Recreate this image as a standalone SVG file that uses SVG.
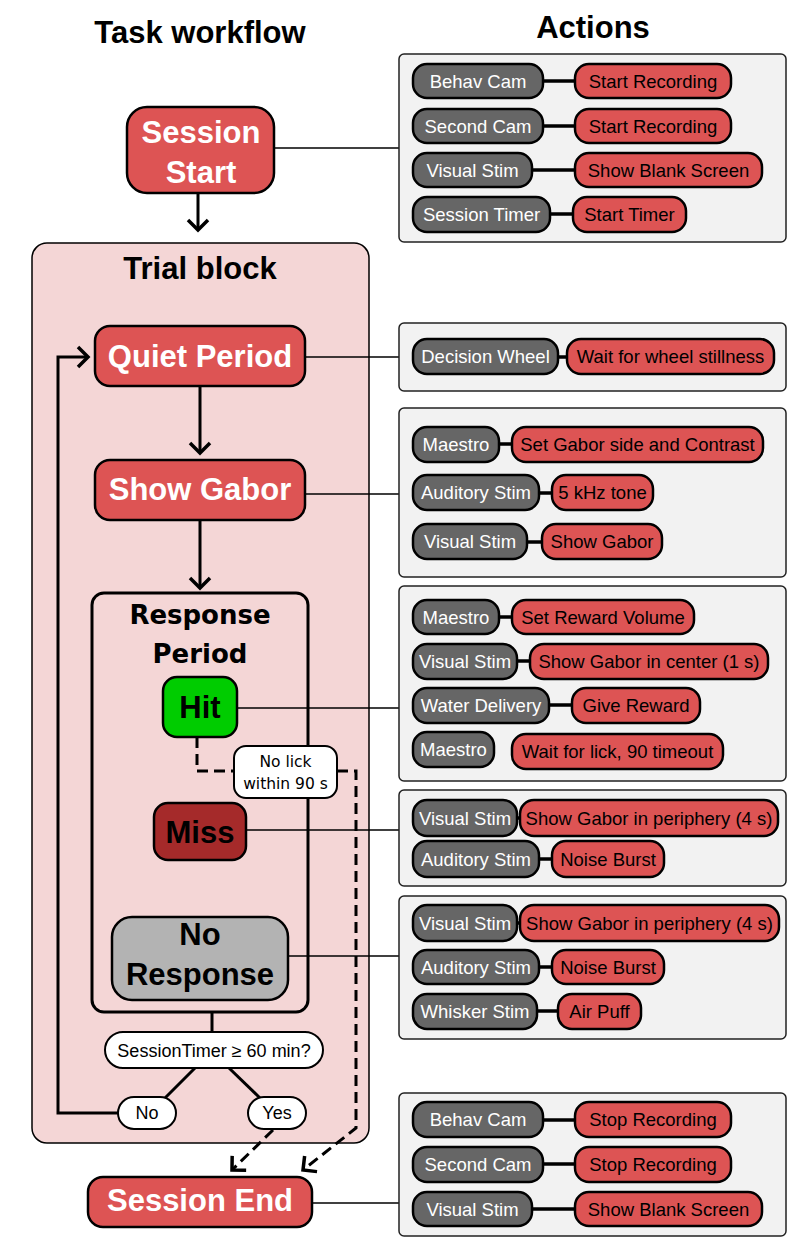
<svg xmlns="http://www.w3.org/2000/svg" width="792" height="1249" viewBox="0 0 792 1249">
<style>
.title{font-family:"Liberation Sans",Arial,sans-serif;font-weight:bold;font-size:31px;fill:#000;text-anchor:middle}
.node{fill:#dd5454;stroke:#000;stroke-width:2.5}
.ntw{font-family:"Liberation Sans",Arial,sans-serif;font-weight:bold;font-size:31px;fill:#fff;text-anchor:middle}
.ntb{font-family:"Liberation Sans",Arial,sans-serif;font-weight:bold;font-size:31px;fill:#000;text-anchor:middle}
.panel{fill:#f2f2f2;stroke:#222;stroke-width:1.5}
.gp{fill:#666;stroke:#000;stroke-width:2.5}
.rp{fill:#dd5454;stroke:#000;stroke-width:2.5}
.gt{font-family:"Liberation Sans",Arial,sans-serif;font-size:18.5px;fill:#fff;text-anchor:middle}
.rt{font-family:"Liberation Sans",Arial,sans-serif;font-size:18.5px;fill:#000;text-anchor:middle}
.pl{stroke:#000;stroke-width:3.5;fill:none}
.thin{stroke:#000;stroke-width:1.5;fill:none}
.flow{stroke:#000;stroke-width:3;fill:none}
.dash{stroke:#000;stroke-width:3;fill:none;stroke-dasharray:11 6}
.wb{fill:#fff;stroke:#000;stroke-width:2}
.st{font-family:"Liberation Sans",Arial,sans-serif;font-size:18px;fill:#000;text-anchor:middle}
</style>
<defs>
<marker id="chev" viewBox="-15 -15 30 30" markerWidth="30" markerHeight="30" refX="0" refY="0" orient="auto" markerUnits="userSpaceOnUse" overflow="visible">
<path d="M-10,-10 L0,0 L-10,10" fill="none" stroke="#000" stroke-width="3.5"/>
</marker>
</defs>
<rect width="792" height="1249" fill="#fff"/>
<text class="title" x="200" y="43">Task workflow</text>
<text class="title" x="593" y="38">Actions</text>

<g id="trial-block">
<rect x="32" y="243" width="337" height="900" rx="15" fill="#f4d6d6" stroke="#000" stroke-width="1.5"/>
<text class="title" x="200" y="279">Trial block</text>
</g>
<g id="response-period">
<rect x="92" y="593" width="216" height="419" rx="12" fill="none" stroke="#000" stroke-width="3"/>
<text x="200" y="624" font-family="'DejaVu Sans',Verdana,sans-serif" font-weight="bold" font-size="26" text-anchor="middle">Response</text>
<text x="200" y="663" font-family="'DejaVu Sans',Verdana,sans-serif" font-weight="bold" font-size="26" text-anchor="middle">Period</text>
</g>

<g id="connectors">
<line class="thin" x1="274" y1="148" x2="399" y2="148"/>
<line class="thin" x1="305" y1="357" x2="399" y2="357"/>
<line class="thin" x1="305" y1="494" x2="399" y2="494"/>
<line class="thin" x1="237" y1="708" x2="399" y2="708"/>
<line class="thin" x1="246" y1="830" x2="399" y2="830"/>
<line class="thin" x1="288" y1="956" x2="399" y2="956"/>
<line class="thin" x1="312" y1="1203" x2="399" y2="1203"/>
<line class="flow" x1="198" y1="193" x2="198" y2="230" marker-end="url(#chev)"/>
<line class="flow" x1="200" y1="386" x2="200" y2="453" marker-end="url(#chev)"/>
<line class="flow" x1="200" y1="520" x2="200" y2="588" marker-end="url(#chev)"/>
<line class="flow" x1="212" y1="1012" x2="212" y2="1032"/>
<line class="flow" x1="195" y1="1068" x2="165" y2="1098"/>
<line class="flow" x1="229" y1="1068" x2="260" y2="1098"/>
<polyline class="flow" points="118,1113 58,1113 58,357 88,357" marker-end="url(#chev)"/>
<polyline class="dash" points="197,737 197,771 234,771"/>
<polyline class="dash" points="337,771 356,771 356,1128 303,1170" marker-end="url(#chev)"/>
<line class="dash" x1="273" y1="1130" x2="232" y2="1170" marker-end="url(#chev)"/>
</g>

<g id="session-start">
<rect class="node" x="127" y="107" width="147" height="86" rx="20"/>
<text class="ntw" x="201" y="143">Session</text>
<text class="ntw" x="201" y="183">Start</text>
</g>
<g id="quiet-period">
<rect class="node" x="95" y="326" width="210" height="60" rx="15"/>
<text class="ntw" x="200" y="367">Quiet Period</text>
</g>
<g id="show-gabor">
<rect class="node" x="95" y="460" width="210" height="60" rx="15"/>
<text class="ntw" x="200" y="500">Show Gabor</text>
</g>
<g id="hit">
<rect x="163" y="677" width="74" height="60" rx="14" fill="#00cc00" stroke="#000" stroke-width="2.5"/>
<text class="ntb" x="200" y="718">Hit</text>
</g>
<g id="no-lick">
<rect class="wb" x="234" y="746" width="103" height="52" rx="12"/>
<text x="285.5" y="767" font-family="'DejaVu Sans',Verdana,sans-serif" font-size="15.5" text-anchor="middle">No lick</text>
<text x="285.5" y="789" font-family="'DejaVu Sans',Verdana,sans-serif" font-size="15.5" text-anchor="middle">within 90 s</text>
</g>
<g id="miss">
<rect x="154" y="803" width="92" height="57" rx="14" fill="#a52a2a" stroke="#000" stroke-width="2.5"/>
<text class="ntb" x="200" y="843">Miss</text>
</g>
<g id="no-response">
<rect x="112" y="917" width="176" height="83" rx="20" fill="#b3b3b3" stroke="#000" stroke-width="2.5"/>
<text class="ntb" x="200" y="945">No</text>
<text class="ntb" x="200" y="985">Response</text>
</g>
<g id="session-timer">
<rect class="wb" x="105" y="1032" width="218" height="36" rx="18"/>
<text class="st" x="214" y="1057">SessionTimer ≥ 60 min?</text>
</g>
<g id="no">
<rect class="wb" x="118" y="1097" width="58" height="32" rx="16"/>
<text class="st" x="147" y="1119">No</text>
</g>
<g id="yes">
<rect class="wb" x="248" y="1097" width="58" height="32" rx="16"/>
<text class="st" x="277" y="1119">Yes</text>
</g>
<g id="session-end">
<rect class="node" x="88" y="1177" width="224" height="50" rx="15"/>
<text class="ntw" x="200" y="1211">Session End</text>
</g>

<g id="actions-start">
<rect class="panel" x="399" y="54" width="387" height="188" rx="5"/>
<line class="pl" x1="543" y1="81" x2="575" y2="81"/>
<rect class="gp" x="413" y="64" width="130" height="34" rx="14"/><text class="gt" x="478" y="87.5">Behav Cam</text>
<rect class="rp" x="575" y="64" width="156" height="34" rx="14"/><text class="rt" x="653" y="87.5">Start Recording</text>
<line class="pl" x1="543" y1="126" x2="575" y2="126"/>
<rect class="gp" x="413" y="109" width="130" height="34" rx="14"/><text class="gt" x="478" y="132.5">Second Cam</text>
<rect class="rp" x="575" y="109" width="156" height="34" rx="14"/><text class="rt" x="653" y="132.5">Start Recording</text>
<line class="pl" x1="532" y1="170" x2="575" y2="170"/>
<rect class="gp" x="413" y="153" width="119" height="34" rx="14"/><text class="gt" x="472.5" y="176.5">Visual Stim</text>
<rect class="rp" x="575" y="153" width="187" height="34" rx="14"/><text class="rt" x="668.5" y="176.5">Show Blank Screen</text>
<line class="pl" x1="550" y1="214" x2="573" y2="214"/>
<rect class="gp" x="413" y="197" width="137" height="35" rx="14"/><text class="gt" x="481.5" y="221">Session Timer</text>
<rect class="rp" x="573" y="197" width="113" height="35" rx="14"/><text class="rt" x="629.5" y="221">Start Timer</text>
</g>

<g id="actions-quiet">
<rect class="panel" x="399" y="323" width="387" height="68" rx="5"/>
<line class="pl" x1="558" y1="357" x2="567" y2="357"/>
<rect class="gp" x="413" y="339" width="145" height="35" rx="14"/><text class="gt" x="485.5" y="363">Decision Wheel</text>
<rect class="rp" x="567" y="339" width="207" height="35" rx="14"/><text class="rt" x="670.5" y="363">Wait for wheel stillness</text>
</g>

<g id="actions-gabor">
<rect class="panel" x="399" y="408" width="387" height="169" rx="5"/>
<line class="pl" x1="499" y1="444" x2="512" y2="444"/>
<rect class="gp" x="413" y="427" width="86" height="35" rx="14"/><text class="gt" x="456" y="451">Maestro</text>
<rect class="rp" x="512" y="427" width="251" height="35" rx="14"/><text class="rt" x="637.5" y="451">Set Gabor side and Contrast</text>
<line class="pl" x1="539" y1="493" x2="552" y2="493"/>
<rect class="gp" x="413" y="475" width="126" height="35" rx="14"/><text class="gt" x="476" y="499">Auditory Stim</text>
<rect class="rp" x="552" y="475" width="101" height="35" rx="14"/><text class="rt" x="602.5" y="499">5 kHz tone</text>
<line class="pl" x1="527" y1="542" x2="542" y2="542"/>
<rect class="gp" x="413" y="524" width="114" height="35" rx="14"/><text class="gt" x="470" y="548">Visual Stim</text>
<rect class="rp" x="542" y="524" width="120" height="35" rx="14"/><text class="rt" x="602" y="548">Show Gabor</text>
</g>

<g id="actions-hit">
<rect class="panel" x="399" y="586" width="387" height="195" rx="5"/>
<line class="pl" x1="499" y1="617" x2="512" y2="617"/>
<rect class="gp" x="413" y="600" width="86" height="34" rx="14"/><text class="gt" x="456" y="623.5">Maestro</text>
<rect class="rp" x="512" y="600" width="182" height="34" rx="14"/><text class="rt" x="603" y="623.5">Set Reward Volume</text>
<line class="pl" x1="517" y1="661" x2="530" y2="661"/>
<rect class="gp" x="413" y="644" width="104" height="35" rx="14"/><text class="gt" x="465" y="668">Visual Stim</text>
<rect class="rp" x="530" y="644" width="238" height="35" rx="14"/><text class="rt" x="649" y="668">Show Gabor in center (1 s)</text>
<line class="pl" x1="549" y1="705" x2="572" y2="705"/>
<rect class="gp" x="413" y="688" width="136" height="35" rx="14"/><text class="gt" x="481" y="712">Water Delivery</text>
<rect class="rp" x="572" y="688" width="128" height="35" rx="14"/><text class="rt" x="636" y="712">Give Reward</text>
<rect class="gp" x="413" y="732" width="81" height="35" rx="14"/><text class="gt" x="453.5" y="756">Maestro</text>
<rect class="rp" x="512" y="734" width="211" height="35" rx="14"/><text class="rt" x="617.5" y="758">Wait for lick, 90 timeout</text>
</g>

<g id="actions-miss">
<rect class="panel" x="399" y="790" width="387" height="96" rx="5"/>
<line class="pl" x1="517" y1="818" x2="520" y2="818"/>
<rect class="gp" x="413" y="800" width="104" height="36" rx="14"/><text class="gt" x="465" y="824.5">Visual Stim</text>
<rect class="rp" x="520" y="800" width="258" height="36" rx="14"/><text class="rt" x="649" y="824.5">Show Gabor in periphery (4 s)</text>
<line class="pl" x1="539" y1="859" x2="552" y2="859"/>
<rect class="gp" x="413" y="841" width="126" height="36" rx="14"/><text class="gt" x="476" y="865.5">Auditory Stim</text>
<rect class="rp" x="552" y="841" width="112" height="36" rx="14"/><text class="rt" x="608" y="865.5">Noise Burst</text>
</g>

<g id="actions-noresponse">
<rect class="panel" x="399" y="896" width="387" height="143" rx="5"/>
<line class="pl" x1="517" y1="923" x2="520" y2="923"/>
<rect class="gp" x="413" y="905" width="104" height="36" rx="14"/><text class="gt" x="465" y="929.5">Visual Stim</text>
<rect class="rp" x="520" y="905" width="259" height="36" rx="14"/><text class="rt" x="649.5" y="929.5">Show Gabor in periphery (4 s)</text>
<line class="pl" x1="539" y1="967" x2="552" y2="967"/>
<rect class="gp" x="413" y="950" width="126" height="34" rx="14"/><text class="gt" x="476" y="973.5">Auditory Stim</text>
<rect class="rp" x="552" y="950" width="112" height="34" rx="14"/><text class="rt" x="608" y="973.5">Noise Burst</text>
<line class="pl" x1="537" y1="1011" x2="558" y2="1011"/>
<rect class="gp" x="413" y="994" width="124" height="35" rx="14"/><text class="gt" x="475" y="1018">Whisker Stim</text>
<rect class="rp" x="558" y="994" width="83" height="35" rx="14"/><text class="rt" x="599.5" y="1018">Air Puff</text>
</g>

<g id="actions-end">
<rect class="panel" x="399" y="1093" width="387" height="143" rx="5"/>
<line class="pl" x1="543" y1="1120" x2="575" y2="1120"/>
<rect class="gp" x="413" y="1102" width="130" height="35" rx="14"/><text class="gt" x="478" y="1126">Behav Cam</text>
<rect class="rp" x="575" y="1102" width="156" height="35" rx="14"/><text class="rt" x="653" y="1126">Stop Recording</text>
<line class="pl" x1="543" y1="1164" x2="575" y2="1164"/>
<rect class="gp" x="413" y="1147" width="130" height="35" rx="14"/><text class="gt" x="478" y="1171">Second Cam</text>
<rect class="rp" x="575" y="1147" width="156" height="35" rx="14"/><text class="rt" x="653" y="1171">Stop Recording</text>
<line class="pl" x1="532" y1="1209" x2="575" y2="1209"/>
<rect class="gp" x="413" y="1192" width="119" height="34" rx="14"/><text class="gt" x="472.5" y="1215.5">Visual Stim</text>
<rect class="rp" x="575" y="1192" width="187" height="34" rx="14"/><text class="rt" x="668.5" y="1215.5">Show Blank Screen</text>
</g>
</svg>
